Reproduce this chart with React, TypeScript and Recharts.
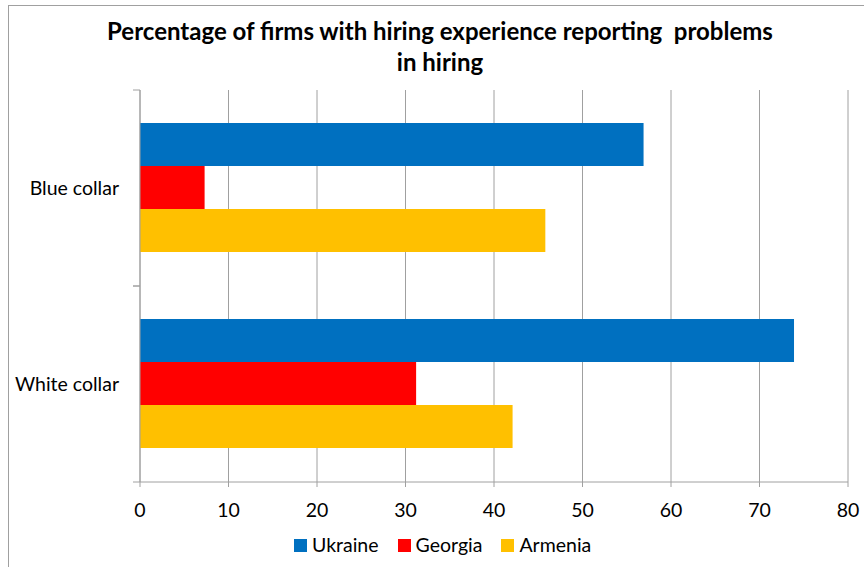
import React from 'react';
import { BarChart, Bar, XAxis, YAxis, CartesianGrid, Legend } from 'recharts';

const categories = ['Blue collar', 'White collar'];
const ukraine = [56.9, 73.9];
const georgia = [7.3, 31.2];
const armenia = [45.8, 42.1];
const xTicks = [0, 10, 20, 30, 40, 50, 60, 70, 80];
const seriesNames = ['Ukraine', 'Georgia', 'Armenia'];
const seriesColors = ['#0070C0', '#FF0000', '#FFC000'];
const seriesValues = [ukraine, georgia, armenia];
const titleLines = ['Percentage of firms with hiring experience reporting  problems', 'in hiring'];

const data = categories.map((c, i) => {
  const row: Record<string, string | number> = { name: c };
  seriesNames.forEach((s, k) => {
    row[s] = seriesValues[k][i];
  });
  return row;
});

const FONT = 'Lato, "Open Sans", sans-serif';
const GRID = '#a0a0a0';
const FS = 19.5;

const YTick = (props: any) => {
  const { x, y, payload } = props;
  const off = payload && typeof payload.offset === 'number' ? payload.offset : 98;
  return (
    <g>
      <text x={x} y={y} dy="0.355em" textAnchor="end" fill="#000" fontSize={FS} fontFamily={FONT}>
        {payload.value}
      </text>
      <line x1={x + 14} x2={x + 21} y1={y - off} y2={y - off} stroke={GRID} />
      <line x1={x + 14} x2={x + 21} y1={y + off} y2={y + off} stroke={GRID} />
    </g>
  );
};

const LegendContent = () => (
  <div style={{ display: 'flex', alignItems: 'center', fontFamily: FONT, fontSize: FS, color: '#000' }}>
    {seriesNames.map((s, k) => (
      <div key={s} style={{ display: 'flex', alignItems: 'center', marginRight: k < seriesNames.length - 1 ? 19 : 0 }}>
        <span style={{ display: 'inline-block', width: 13, height: 13, background: seriesColors[k], marginRight: 5 }} />
        <span style={{ lineHeight: '20px' }}>{s}</span>
      </div>
    ))}
  </div>
);

export default function App() {
  return (
    <div style={{ position: 'absolute', left: 0, top: 0, width: 864, height: 567, overflow: 'hidden', background: '#fff' }}>
      <div
        style={{
          position: 'absolute',
          left: 8,
          top: 5,
          width: 900,
          height: 600,
          borderLeft: '1px solid #a0a0a0',
          borderTop: '1px solid #a0a0a0',
        }}
      />
      <div
        style={{
          position: 'absolute',
          left: 0,
          top: 15,
          width: 880,
          textAlign: 'center',
          fontFamily: FONT,
          fontWeight: 700,
          fontSize: 24,
          lineHeight: '31px',
          whiteSpace: 'pre',
          color: '#000',
          zIndex: 2,
        }}
      >
        {titleLines.map((t) => (
          <div key={t}>{t}</div>
        ))}
      </div>
      <div style={{ position: 'absolute', left: 0, top: 0 }}>
        <BarChart
          width={864}
          height={567}
          layout="vertical"
          data={data}
          margin={{ top: 90, right: 16, bottom: 45, left: 10 }}
          barCategoryGap={33}
          barGap={0}
          style={{ fontFamily: FONT }}
        >
          <CartesianGrid horizontal={false} stroke={GRID} />
          <XAxis
            type="number"
            domain={[0, 80]}
            ticks={xTicks}
            interval={0}
            stroke={GRID}
            tickSize={5}
            tickMargin={16}
            height={40}
            tick={{ fill: '#000', fontSize: FS, fontFamily: FONT }}
          />
          <YAxis
            type="category"
            dataKey="name"
            width={130}
            stroke={GRID}
            tickLine={false}
            tickSize={7}
            tickMargin={14}
            tick={<YTick />}
          />
          <Legend
            verticalAlign="middle"
            align="center"
            content={<LegendContent />}
            wrapperStyle={{ top: 535, left: 294, width: 'auto' }}
          />
          {seriesNames.map((s, k) => (
            <Bar key={s} dataKey={s} fill={seriesColors[k]} isAnimationActive={false} />
          ))}
        </BarChart>
      </div>
    </div>
  );
}
